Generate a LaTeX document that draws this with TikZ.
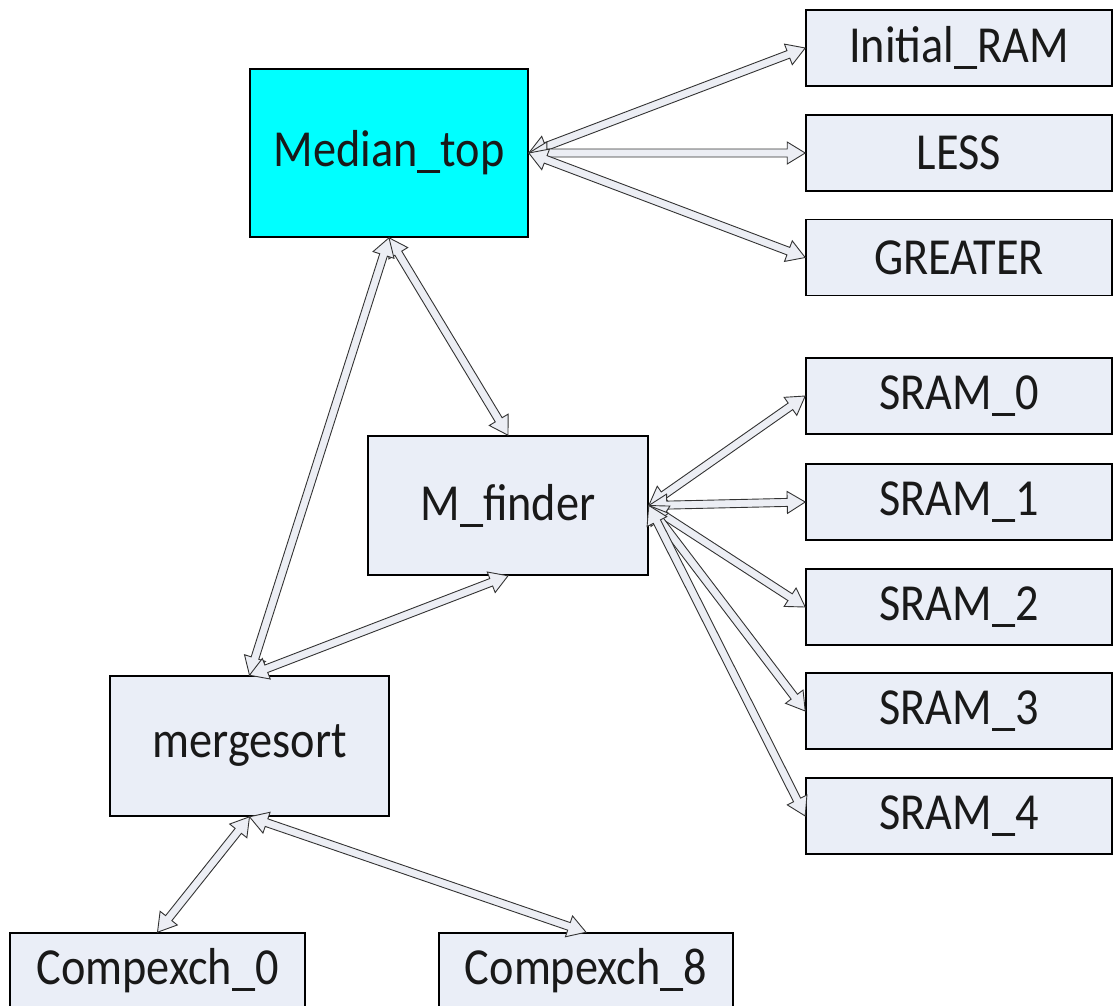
\documentclass[tikz,border=0pt]{standalone}
\usepackage{fontspec}
\setmainfont{Carlito}[FakeStretch=0.89]
\usetikzlibrary{calc}
\definecolor{boxfill}{RGB}{234,238,247}
\definecolor{topfill}{RGB}{0,255,255}
\definecolor{linkfill}{RGB}{236,238,244}
\tikzset{
  x=1pt, y=-1pt,
  block/.style={draw=black, line width=1.6pt, fill=boxfill, inner sep=0pt,
    font=\fontsize{52}{58}\selectfont, text=black!90},
  wide/.style={block, minimum width=306pt, minimum height=76pt},
  link/.style={draw=black!80, line width=0.9pt, fill=linkfill, line join=miter},
}
% hollow double-headed block arrow between two points
\newcommand\duplex[2]{%
  \filldraw[link] let \p1=($(#1)!18pt!(#2)$), \p2=($(#2)!18pt!(#1)$) in
    (#1) -- ($(\p1)!11pt!90:(#2)$) -- ($(\p1)!4pt!90:(#2)$)
    -- ($(\p2)!4pt!-90:(#1)$) -- ($(\p2)!11pt!-90:(#1)$) -- (#2)
    -- ($(\p2)!11pt!90:(#1)$) -- ($(\p2)!4pt!90:(#1)$)
    -- ($(\p1)!4pt!-90:(#2)$) -- ($(\p1)!11pt!-90:(#2)$) -- cycle;}
\begin{document}
\begin{tikzpicture}
\useasboundingbox (0,0) rectangle (1114,1005);
\fill[white] (0,0) rectangle (1114,1005);
\clip (0,0) rectangle (1114,1005);

% modules
\node[block, fill=topfill, minimum width=278pt, minimum height=168pt] (mt) at (389,153) {Median\_top};
\node[wide] (ram)  at (959,48)    {Initial\_RAM};
\node[wide] (less) at (959,153)   {LESS};
\node[wide] (gr)   at (959,257.5) {GREATER};

\node[block, minimum width=280pt, minimum height=139pt] (mf) at (508,505.5) {M\_finder};
\node[wide] (s0) at (959,396) {SRAM\_0};
\node[wide] (s1) at (959,502) {SRAM\_1};
\node[wide] (s2) at (959,607) {SRAM\_2};
\node[wide] (s3) at (959,711) {SRAM\_3};
\node[wide] (s4) at (959,816) {SRAM\_4};

\node[block, minimum width=279pt, minimum height=140pt] (ms) at (249.5,746) {mergesort};
\node[block, minimum width=295pt, minimum height=76pt] (cx0) at (157.5,971) {Compexch\_0};
\node[block, minimum width=294pt, minimum height=76pt] (cx8) at (586,971) {Compexch\_8};

% connections
\duplex{mt.east}{ram.west}
\duplex{mt.east}{less.west}
\duplex{mt.east}{gr.west}
\duplex{mt.south}{mf.north}
\duplex{ms.north}{mt.south}
\duplex{ms.north}{mf.south}
\duplex{mf.east}{s0.west}
\duplex{mf.east}{s1.west}
\duplex{mf.east}{s2.west}
\duplex{mf.east}{s3.west}
\duplex{mf.east}{s4.west}
\duplex{ms.south}{cx0.north}
\duplex{ms.south}{cx8.north}
\end{tikzpicture}
\end{document}
